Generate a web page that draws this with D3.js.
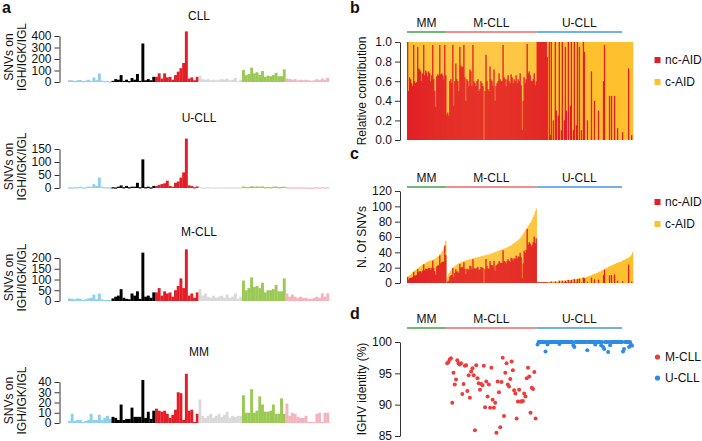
<!DOCTYPE html>
<html>
<head>
<meta charset="utf-8">
<script src="https://cdn.jsdelivr.net/npm/d3@7"></script>
<style>
body { margin: 0; background: #fff; }
text { font-family: "Liberation Sans", Arial, sans-serif; fill: #111; }
.axis path, .axis line { stroke: #333; }
.axis text { font-size: 12px; fill: #111; }
</style>
</head>
<body>
<svg id="chart" width="702" height="441"></svg>
<script>
// ---- panel a: SNVs on IGH/IGK/IGL per 96 trinucleotide contexts ----
var substitutions = ["C>A", "C>G", "C>T", "T>A", "T>C", "T>G"];
var cllSnv = [
	15,15,8,15,18,8,12,20,10,40,15,75,12,8,10,5,
	10,25,20,60,10,20,8,35,20,70,10,335,15,25,15,45,
	45,75,30,75,40,45,20,60,90,120,165,440,30,40,15,45,
	55,25,20,25,15,20,15,20,25,20,30,15,20,35,10,20,
	105,60,70,125,75,85,60,95,45,55,50,60,80,50,50,110,
	30,25,20,25,15,20,15,20,15,10,15,25,15,30,20,35];
var ucllSnv = [
	3,2,3,3,5,2,3,5,5,15,8,40,5,3,3,2,
	3,2,5,10,3,8,3,5,5,20,3,110,3,5,2,8,
	8,12,15,18,28,8,5,20,25,40,60,190,10,8,3,6,
	4,2,2,3,2,2,2,3,2,2,3,2,2,3,2,2,
	6,4,4,7,5,6,5,6,3,4,3,5,6,3,4,5,
	3,2,2,3,2,3,2,2,2,1,2,3,2,3,2,3];
var mcllSnv = [
	12,10,8,12,10,5,8,12,15,30,8,35,8,5,5,5,
	12,20,25,55,15,10,8,35,25,45,10,225,20,25,15,40,
	40,60,25,45,35,40,20,50,70,105,60,240,25,35,15,40,
	55,25,35,20,15,25,15,20,25,15,30,15,20,35,10,20,
	95,50,60,110,65,70,60,85,40,50,50,55,75,45,45,105,
	35,20,30,20,15,20,15,15,10,10,15,20,15,35,20,35];
var mmSnv = [
	2,9,2,3,3,1,2,3,9,3,3,8,3,5,7,4,
	6,5,3,18,3,4,4,15,6,6,6,42,5,11,4,12,
	14,12,11,12,9,5,8,13,30,29,3,48,12,13,1,9,
	23,7,5,7,9,5,7,9,6,8,11,5,7,6,7,7,
	27,10,10,33,10,12,26,18,11,11,12,18,9,9,24,9,
	19,7,10,9,6,5,5,7,1,1,1,9,10,1,10,10];
var cllTicks = [0, 100, 200, 300, 400];
var ucllTicks = [0, 50, 100, 150];
var mcllTicks = [0, 50, 100, 150, 200];
var mmTicks = [0, 10, 20, 30, 40];

// ---- panels b-d: one entry per sample, ordered as in the figure ----
var groups = ["MM", "M-CLL", "U-CLL"];
var mmFrac = [1.00,0.50,0.64,0.62,0.58,0.55,0.97,0.60,0.58,0.59,0.95,0.73,0.72,0.70,0.60,0.68,0.97,0.66,0.71,0.69,
	0.65,0.70,0.68,0.60,0.66,0.97,0.62,0.50,0.34,0.65,0.67,0.66,0.97,0.67,0.68,0.66,0.62,0.97,0.66];
var mcllFrac = [0.26,0.28,0.25,0.60,0.62,0.58,0.97,0.35,0.60,0.78, 0.62,0.60,0.50,0.95,0.76,0.74,0.75,0.97,0.64,0.40,
	0.62,0.60,0.55,0.72,0.70,0.55,0.97,0.60,0.58,0.55, 0.60,0.62,0.50,0.52,0.60,0.58,0.55,0.00,0.50,0.87,
	0.60,0.52,0.50,0.75,0.62,0.60,0.55,0.72,0.40,0.55, 0.58,0.60,0.68,0.62,0.60,0.60,0.97,0.64,0.62,0.55,
	0.62,0.66,0.60,0.58,0.67,0.64,0.58,0.62,0.60,0.66, 0.58,0.62,0.60,0.68,0.56,0.10,0.40,0.64,0.58,0.62,
	0.98,0.68,0.70,0.66,0.60,0.60,0.62,0.68,0.56,0.60];
var ucllFrac = [1,1,1,1,1,1,1,1,1,1, 0.85,0,1,0.05,1,0,0.2,0,1,0.3, 0,0.25,1,0,0.1,1,0,0.2,0.95,0.3,
	0,1,0,0.35,1,0,0.1,1,0,0.15, 1,0,0.95,0,0.1,0,1,0.9,0,0, 0.2,0,0,0,0.7,0,0,0.4,0,0,
	0,0.3,0,0,0,0,0.6,0.97,0,0, 0,0,0.45,0,0.45,0,0,0.45,0,0, 0.12,0,0,0,0,0.08,0,0,0,0,
	0,0.73,0,0,0.05,0];
var mmTotal = [8,9,10,11,12,14,15,16,17,18,19,20,21,22,23,24,25,25,26,27,28,28,29,29,30,30,31,31,32,33,
	34,35,37,38,40,42,45,50,55];
var mcllTotal = [2,8,12,14,16,18,20,21,22,23, 24,25,26,26,27,27,28,28,29,29, 30,30,31,31,31,32,32,32,33,33,
	33,34,34,34,35,35,35,36,36,36, 37,37,37,38,38,39,39,40,40,41, 41,42,42,43,43,44,44,45,45,46,
	46,47,48,48,49,50,51,52,53,54, 55,56,57,58,60,62,64,66,68,70, 72,74,76,78,80,83,86,89,93,97];
var ucllTotal = [1,1,1,1,1,1,1,1,1,1, 1,1,1,1,2,2,2,2,2,2, 2,2,3,3,3,3,3,3,3,4, 4,4,4,4,4,5,5,5,5,5,
	5,6,6,6,6,7,7,7,7,8, 8,9,9,10,10,11,11,12,12,13, 13,14,15,15,16,17,17,18,19,20,
	20,21,22,22,23,23,24,25,25,26, 26,27,27,28,28,29,30,30,31,32, 32,33,34,35,37,40];
var mcllIdentity = [96.6,96.8,97.2,97.4,90.3,95.1,93.2,94.0,97.1,96.6,96.4,96.6,91.7,93.3,96.2,96.3,92.2,94.7,
	91.1,95.3,95.8,94.7,85.9,96.3,94.2,93.4,92.4,93.3,93.1,96.2,89.6,93.7,91.3,93.2,89.5,95.9,90.8,89.5,
	90.3,85.5,93.7,92.0,86.4,93.6,97.5,88.2,95.1,96.6,93.2,92.9,94.1,96.9,95.5,92.3,91.8,87.8,90.5,92.4,
	90.5,90.5,90.6,91.8,91.3,94.2,95.9,94.5,88.7,92.7,92.5,95.2,87.8];
var ucllIdentity = [99.6,100,100,100,100,100,100,100,98.5,100, 99.6,100,100,100,100,100,100,100,100,100,
	100,100,99.7,100,100,100,100,100,100,100, 100,100,100,100,100,100,99.5,99.2,100,100,
	100,100,100,100,100,100,100,100,100,100, 98.7,100,100,100,100,100,100,100,99.6,100,
	100,100,100,100,99.5,100,99.2,98.9,100,100, 100,98.4,100,99.5,100,100,100,100,100,100,
	100,100,100,100,100,100,98.5,98.9,100,100, 100,100,99.2,100,99.6,99.4];
var fracTicks = [0, 0.2, 0.4, 0.6, 0.8, 1.0];
var countTicks = [0, 20, 40, 60, 80, 100, 120];
var identityTicks = [85, 90, 95, 100];

var spectrumColors = ["#8ecff0", "#000000", "#e41e26", "#d9d9d9", "#9bc955", "#f5b4bd"];
var groupColors = ["#43a047", "#e8686a", "#3f97e0"];
var headerTrim = [0, 0, 11]; // the U-CLL header line stops short of the last bars
var ncColor = "#e21f26", cColor = "#fec02e";
var dotColors = {"M-CLL": "#ee3b3b", "U-CLL": "#2b8be6"};

var svg = d3.select("#chart");

function panelLetter(t, x, y) {
	svg.append("text").attr("x", x).attr("y", y).text(t)
		.style("font-weight", "bold").style("font-size", "16px");
}

function yTitle(lines, x, y) {
	var t = svg.append("text").attr("transform", "translate(" + x + "," + y + ") rotate(-90)")
		.attr("text-anchor", "middle").style("font-size", "12px");
	lines.forEach(function(l, i) {
		t.append("tspan").attr("x", 0).attr("dy", i == 0 ? 0 : "1.05em").text(l);
	});
}

// ---------- panel a ----------
panelLetter("a", 2, 13);
var aPanels = [
	{name: "CLL", values: cllSnv, ticks: cllTicks, top: 36, base: 82, titleY: 20},
	{name: "U-CLL", values: ucllSnv, ticks: ucllTicks, top: 149, base: 188, titleY: 122},
	{name: "M-CLL", values: mcllSnv, ticks: mcllTicks, top: 258, base: 301, titleY: 236},
	{name: "MM", values: mmSnv, ticks: mmTicks, top: 382, base: 423, titleY: 356}
];
var xa = d3.scaleBand().domain(d3.range(96)).range([68, 329]).padding(0);

aPanels.forEach(function(p) {
	var y = d3.scaleLinear().domain([0, d3.max(p.ticks)]).range([p.base, p.top]);
	svg.append("text").attr("x", 199).attr("y", p.titleY).attr("text-anchor", "middle")
		.style("font-size", "12px").text(p.name);
	svg.append("g").attr("class", "axis").attr("transform", "translate(59.5,0)")
		.call(d3.axisLeft(y).tickValues(p.ticks).tickSize(5).tickSizeOuter(0).tickPadding(3));
	svg.append("g").selectAll("rect").data(p.values).enter().append("rect")
		.attr("x", function(d, i) { return xa(i); })
		.attr("width", xa.bandwidth() + 0.2)
		.attr("y", function(d) { return y(d); })
		.attr("height", function(d) { return Math.max(1.2, p.base - y(d)); })
		.attr("fill", function(d, i) { return spectrumColors[Math.floor(i / 16)]; });
	yTitle(["SNVs on", "IGH/IGK/IGL"], 13, (p.base + p.top) / 2 - 2);
});

// ---------- samples for b-d ----------
var samples = [];
[[mmFrac, mmTotal], [mcllFrac, mcllTotal], [ucllFrac, ucllTotal]].forEach(function(s, g) {
	s[0].forEach(function(f, i) {
		samples.push({group: groups[g], frac: f, total: s[1][i]});
	});
});
var xs = d3.scaleBand().domain(d3.range(samples.length)).range([407, 633]).padding(0);
var bw = xs.bandwidth();

function groupSpan(name) {
	var idx = [];
	samples.forEach(function(s, i) { if (s.group == name) idx.push(i); });
	return [xs(idx[0]), xs(idx[idx.length - 1]) + bw];
}

function groupHeader(lineY) {
	groups.forEach(function(g, k) {
		var sp = groupSpan(g);
		var x2 = sp[1] - headerTrim[k];
		svg.append("line").attr("x1", sp[0]).attr("x2", x2).attr("y1", lineY).attr("y2", lineY)
			.attr("stroke", groupColors[k]).attr("stroke-width", 1.6);
		svg.append("text").attr("x", (sp[0] + x2) / 2).attr("y", lineY - 5)
			.attr("text-anchor", "middle").style("font-size", "12px").text(g);
	});
}

function legendSquares(y1, y2) {
	[[ncColor, "nc-AID", y1], [cColor, "c-AID", y2]].forEach(function(l) {
		svg.append("rect").attr("x", 654.5).attr("y", l[2] - 3).attr("width", 6).attr("height", 6).attr("fill", l[0]);
		svg.append("text").attr("x", 665).attr("y", l[2]).attr("dy", "0.35em")
			.style("font-size", "12px").text(l[1]);
	});
}

// ---------- panel b ----------
panelLetter("b", 350, 13);
var yb = d3.scaleLinear().domain([0, 1]).range([140, 42]);
svg.append("g").selectAll("rect").data(samples).enter().append("rect")
	.attr("x", function(d, i) { return xs(i); }).attr("width", bw + 0.3)
	.attr("y", yb(1)).attr("height", yb(0) - yb(1)).attr("fill", cColor);
svg.append("g").selectAll("rect").data(samples).enter().append("rect")
	.attr("x", function(d, i) { return xs(i); }).attr("width", bw + 0.3)
	.attr("y", function(d) { return yb(d.frac); })
	.attr("height", function(d) { return yb(0) - yb(d.frac); }).attr("fill", ncColor);
svg.append("g").attr("class", "axis").attr("transform", "translate(400,0)")
	.call(d3.axisLeft(yb).tickValues(fracTicks).tickFormat(d3.format(".1f")).tickSize(5).tickSizeOuter(0).tickPadding(3));
yTitle(["Relative contribution"], 366, 91);
groupHeader(32);
legendSquares(60, 82);

// ---------- panel c ----------
panelLetter("c", 350, 159);
var yc = d3.scaleLinear().domain([0, 120]).range([283, 191]);
svg.append("g").selectAll("rect").data(samples).enter().append("rect")
	.attr("x", function(d, i) { return xs(i); }).attr("width", bw + 0.3)
	.attr("y", function(d) { return yc(d.total); })
	.attr("height", function(d) { return yc(0) - yc(d.total); }).attr("fill", cColor);
svg.append("g").selectAll("rect").data(samples).enter().append("rect")
	.attr("x", function(d, i) { return xs(i); }).attr("width", bw + 0.3)
	.attr("y", function(d) { return yc(d.total * d.frac); })
	.attr("height", function(d) { return yc(0) - yc(d.total * d.frac); }).attr("fill", ncColor);
svg.append("g").attr("class", "axis").attr("transform", "translate(400,0)")
	.call(d3.axisLeft(yc).tickValues(countTicks).tickSize(5).tickSizeOuter(0).tickPadding(3));
yTitle(["N. Of SNVs"], 366, 237);
groupHeader(187);
legendSquares(202, 224);

// ---------- panel d ----------
panelLetter("d", 350, 319);
var yd = d3.scaleLinear().domain([85, 100]).range([436, 342]);
svg.append("g").attr("class", "axis").attr("transform", "translate(400,0)")
	.call(d3.axisLeft(yd).tickValues(identityTicks).tickSize(5).tickSizeOuter(0).tickPadding(3));
yTitle(["IGHV identity (%)"], 366, 389);
groupHeader(328);
[["M-CLL", mcllIdentity], ["U-CLL", ucllIdentity]].forEach(function(s) {
	var sp = groupSpan(s[0]);
	var xd = d3.scaleLinear().domain([0, s[1].length - 1]).range([sp[0] + 1, sp[1] - 1]);
	svg.append("g").selectAll("circle").data(s[1]).enter().append("circle")
		.attr("cx", function(d, i) { return xd(i); })
		.attr("cy", function(d) { return yd(d); })
		.attr("r", 2).attr("fill", dotColors[s[0]]);
});
["M-CLL", "U-CLL"].forEach(function(g, k) {
	var ly = 357 + k * 21;
	svg.append("circle").attr("cx", 657.5).attr("cy", ly).attr("r", 2.6).attr("fill", dotColors[g]);
	svg.append("text").attr("x", 665).attr("y", ly).attr("dy", "0.35em").style("font-size", "12px").text(g);
});
</script>
</body>
</html>
